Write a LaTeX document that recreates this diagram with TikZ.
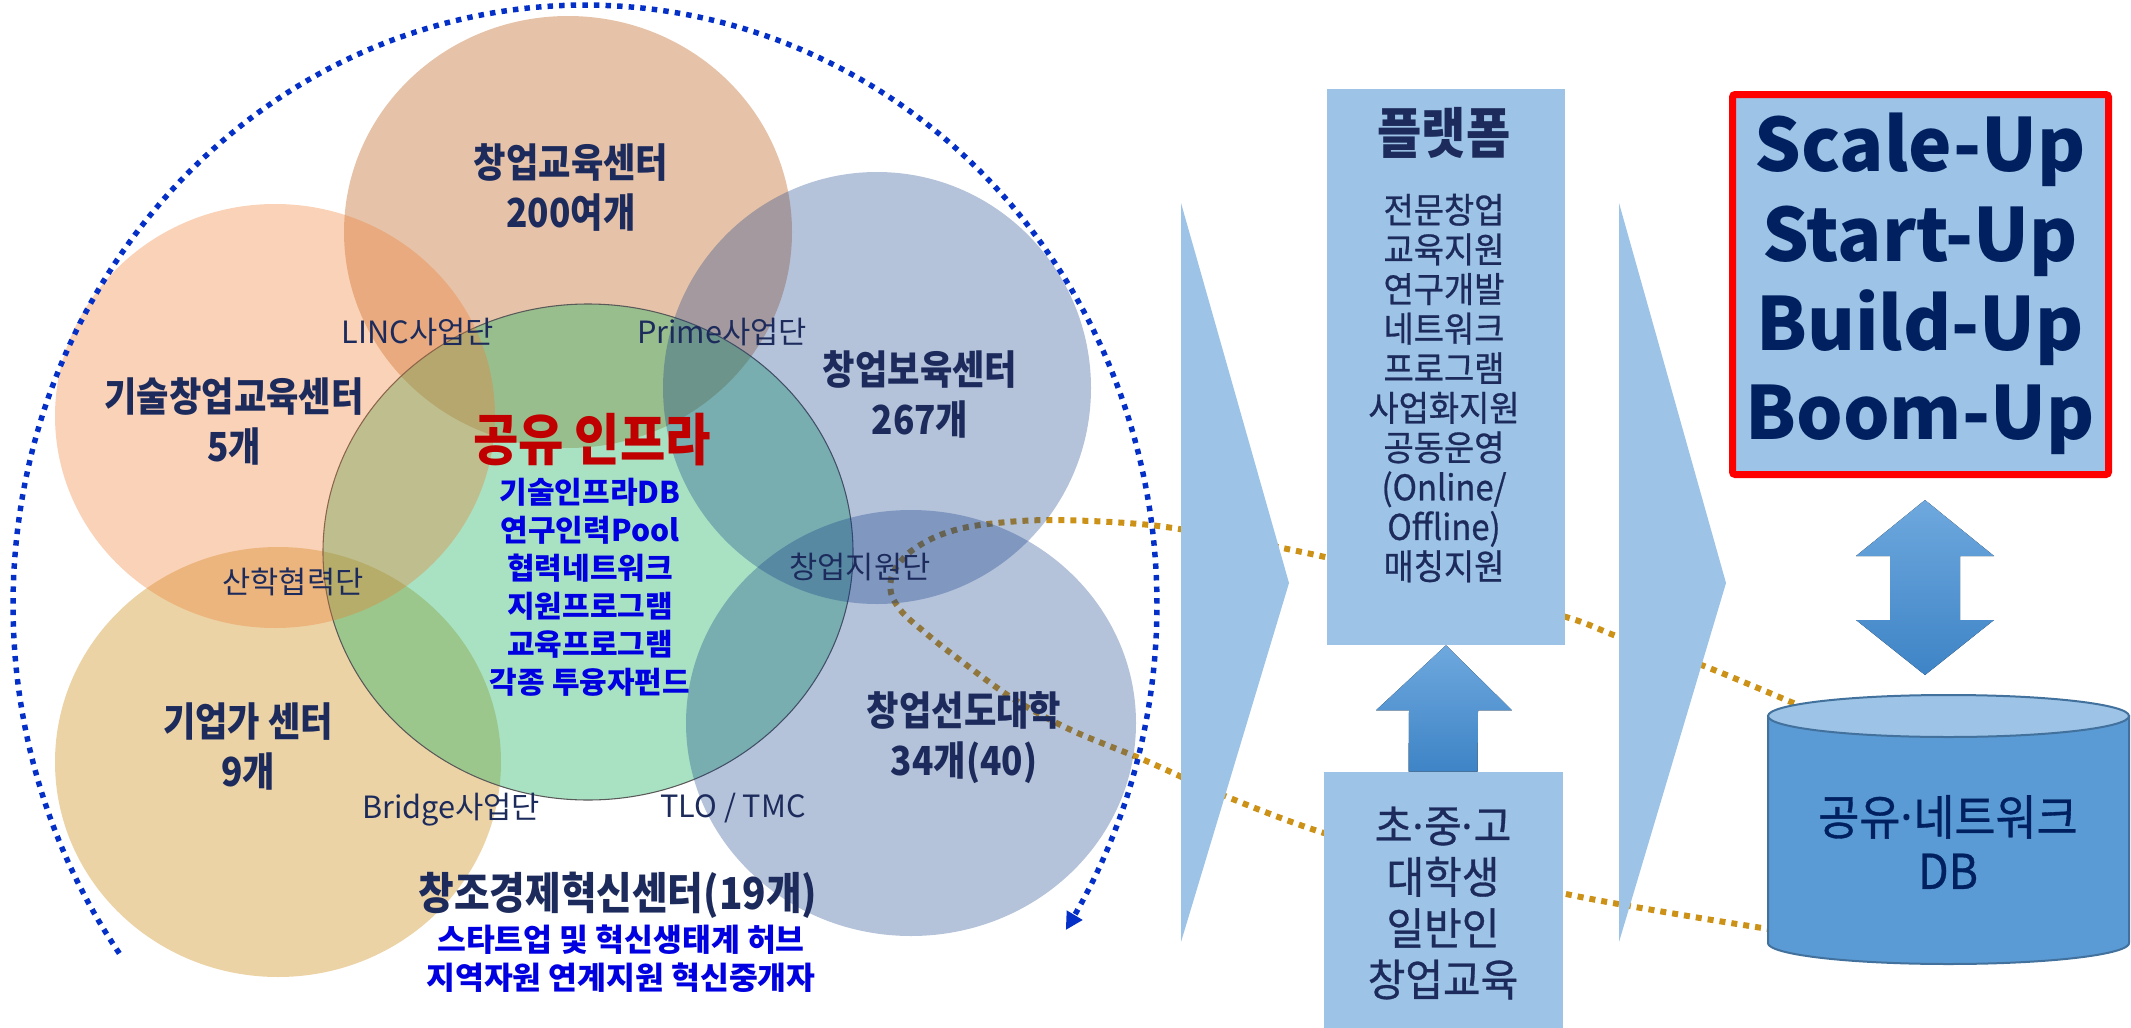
\documentclass[tikz,border=0pt]{standalone}
\usepackage{fontspec}
\setmainfont{Noto Sans CJK KR}
\newfontfamily\krc{Noto Sans CJK KR}[FakeStretch=0.88]
\newfontfamily\krm{Noto Sans CJK KR}[FakeStretch=0.93, FakeBold=0.7]
\newfontfamily\latinf{Noto Sans}
\newcommand{\mdot}{{\latinf\char"00B7}}
\usetikzlibrary{arrows.meta,calc}
\definecolor{navy}{HTML}{1C2B5C}
\definecolor{navyb}{HTML}{002060}
\definecolor{lblue}{HTML}{9DC3E6}
\definecolor{mblue}{HTML}{5B9BD5}
\definecolor{cylline}{HTML}{41719C}
\definecolor{dred}{HTML}{C00000}
\definecolor{bluetxt}{HTML}{0000E0}
\definecolor{dotor}{HTML}{CC9218}
\definecolor{arcblue}{HTML}{0530C8}
\definecolor{ctop}{RGB}{192,105,37}
\definecolor{cleft}{RGB}{237,123,46}
\definecolor{cright}{RGB}{13,58,136}
\definecolor{cbl}{RGB}{207,145,30}
\definecolor{cgreen}{RGB}{37,182,102}
\definecolor{arrtop}{HTML}{6EA8DE}
\definecolor{arrbot}{HTML}{3E84C6}
\tikzset{
  biglbl/.style={font={\krc\bfseries\fontsize{30}{37.5}\selectfont}, text=navy, align=center, inner sep=0pt},
  smalllbl/.style={font={\fontsize{23}{26}\selectfont}, text=navy, inner sep=0pt},
  bluelbl/.style={font={\bfseries\fontsize{22.5}{28.5}\selectfont}, text=bluetxt, align=center, inner sep=0pt},
  paneltxt/.style={font={\krm\fontsize{26.5}{29.7}\selectfont}, text=navy, align=center, inner sep=0pt},
  panelbox/.style={fill=lblue, draw=none, inner sep=0pt},
  chevron/.style={fill=lblue},
  orangedots/.style={draw=dotor, line width=4.5pt, dash pattern=on 4.5pt off 4.5pt},
  arcdots/.style={draw=arcblue, line width=4.1pt, dash pattern=on 4.1pt off 4.6pt},
  venn/.style={fill opacity=0.4},
  venndark/.style={fill opacity=0.31},
  blockarrow/.style={top color=arrtop, bottom color=arrbot, draw=none}
}
\begin{document}
\begin{tikzpicture}[x=0.75pt,y=-0.75pt]
\useasboundingbox (0,0) rectangle (2131,1028);

% orange dotted lasso (behind everything)
\draw[orangedots] plot[smooth, tension=0.55] coordinates {
 (1805,708) (1704,666) (1619,637) (1566,617) (1445,586) (1325,557) (1240,540)
 (1150,525) (1050,520) (980,525) (940,535) (910,552) (893,573) (891,593)
 (902,612) (922,630) (952,654) (1012,698) (1071,730) (1144,760) (1225,796)
 (1324,833) (1445,865) (1566,894) (1682,915) (1775,930)};

% Venn ellipses
\fill[ctop, venn] (568,232) ellipse [x radius=224, y radius=216];
\fill[cbl, venn] (278,762) ellipse [x radius=223, y radius=215];
\filldraw[fill=cgreen, venn, draw=black!65, line width=0.8pt] (588,552) ellipse [x radius=265, y radius=248];
\fill[cleft, fill opacity=0.34] (275,416) ellipse [x radius=220, y radius=212];
\fill[cright, venndark] (877,388) ellipse [x radius=214, y radius=216];
\fill[cright, venndark] (911,723) ellipse [x radius=225, y radius=213];

% blue dotted arc
\draw[arcdots, -{Triangle[length=13pt,width=13pt]}]
  plot[domain=144.5:392.8, samples=220] ({585+572*cos(\x)},{605+600*sin(\x)});

% Venn labels
\node[biglbl] (edu) at (571,188) {창업교육센터\\200여개};
\node[biglbl] (tech) at (234,421) {기술창업교육센터\\5개};
\node[biglbl] (incub) at (920,394) {창업보육센터\\267개};
\node[biglbl] (entre) at (248,746) {기업가 센터\\9개};
\node[biglbl] (lead) at (964,738) {창업선도대학\\34개(40)};
\node[biglbl, font={\krc\bfseries\fontsize{33}{37.5}\selectfont}] (cce) at (618,895) {창조경제혁신센터(19개)};
\node[bluelbl, font={\bfseries\fontsize{23.5}{28.5}\selectfont}] (ccesub) at (621,959) {스타트업 및 혁신생태계 허브\\지역자원 연계지원 혁신중개자};
\node[font={\krc\bfseries\fontsize{42}{44}\selectfont}, text=dred, inner sep=0pt] (share) at (592,440) {공유 인프라};
\node[bluelbl] (sharelist) at (590,587) {기술인프라DB\\연구인력Pool\\협력네트워크\\지원프로그램\\교육프로그램\\각종 투융자펀드};
\node[smalllbl] (linc) at (418,332) {LINC사업단};
\node[smalllbl] (prime) at (722,332) {Prime사업단};
\node[smalllbl] (sanhak) at (293,582) {산학협력단};
\node[smalllbl] (support) at (860,567) {창업지원단};
\node[smalllbl] (bridge) at (451,810) {Bridge사업단};
\node[smalllbl] (tlo) at (733,808) {TLO / TMC};

% chevrons
\fill[chevron] (1181,203) -- (1289,583) -- (1181,942) -- cycle;
\fill[chevron] (1619,203) -- (1726,583) -- (1619,942) -- cycle;

% platform box
\node[panelbox, minimum width=178.5pt, minimum height=417pt] (plat) at (1446,367) {};
\node[font={\krc\bfseries\fontsize{41}{43}\selectfont}, text=navy, inner sep=0pt] (plattitle) at (1444,133) {플랫폼};
\node[paneltxt] (platlist) at (1444,388) {전문창업\\교육지원\\연구개발\\네트워크\\프로그램\\사업화지원\\공동운영\\(Online/\\Offline)\\매칭지원};

% lower box
\node[panelbox, minimum width=179.25pt, minimum height=192pt] (low) at (1443.5,900) {};
\node[paneltxt, font={\krm\fontsize{33}{38.5}\selectfont}] (lowtxt) at (1443,903) {초\mdot 중\mdot 고\\대학생\\일반인\\창업교육};

% up arrow from lower box to platform
\fill[blockarrow] (plat.south) -- ($(plat.south)+(66,65)$) -- ($(plat.south)+(32,65)$)
  -- ($(low.north)+(34,0)$) -- ($(low.north)+(-35,0)$) -- ($(plat.south)+(-37,65)$)
  -- ($(plat.south)+(-70,65)$) -- cycle;

% red box
\node[draw=red, line width=5.25pt, fill=lblue, rounded corners=2pt, minimum width=282pt, minimum height=285pt, inner sep=0pt] (red) at (1920.5,284.5) {};
\node[font={\bfseries\fontsize{55}{67}\selectfont}, text=navyb, align=center, inner sep=0pt] (ups) at (1920,284) {Scale-Up\\Start-Up\\Build-Up\\Boom-Up};

% cylinder (DB)
\filldraw[fill=mblue, draw=cylline, line width=1.5pt] (1768,716) -- (1768,943)
  -- plot[domain=180:0, samples=80] ({1948.5+180.5*cos(\x)},{943+21*sin(\x)}) -- (2129,716) -- cycle;
\filldraw[fill=lblue, draw=cylline, line width=1.5pt] (1948.5,716) ellipse [x radius=180.5, y radius=21];
\node[font={\krm\fontsize{36}{40.5}\selectfont}, text=navyb, align=center, inner sep=0pt] (db) at (1948,842) {공유\mdot 네트워크\\DB};

% double arrow between red box and DB
\coordinate (dtop) at (1925,500);
\coordinate (dbot) at (1925,675);
\fill[blockarrow] (dtop) -- ++(69,56) -- ++(-34,0) -- ++(0,64) -- ++(34,0) -- (dbot)
  -- ++(-69,-55) -- ++(34,0) -- ++(0,-64) -- ++(-34,0) -- cycle;
\end{tikzpicture}
\end{document}
